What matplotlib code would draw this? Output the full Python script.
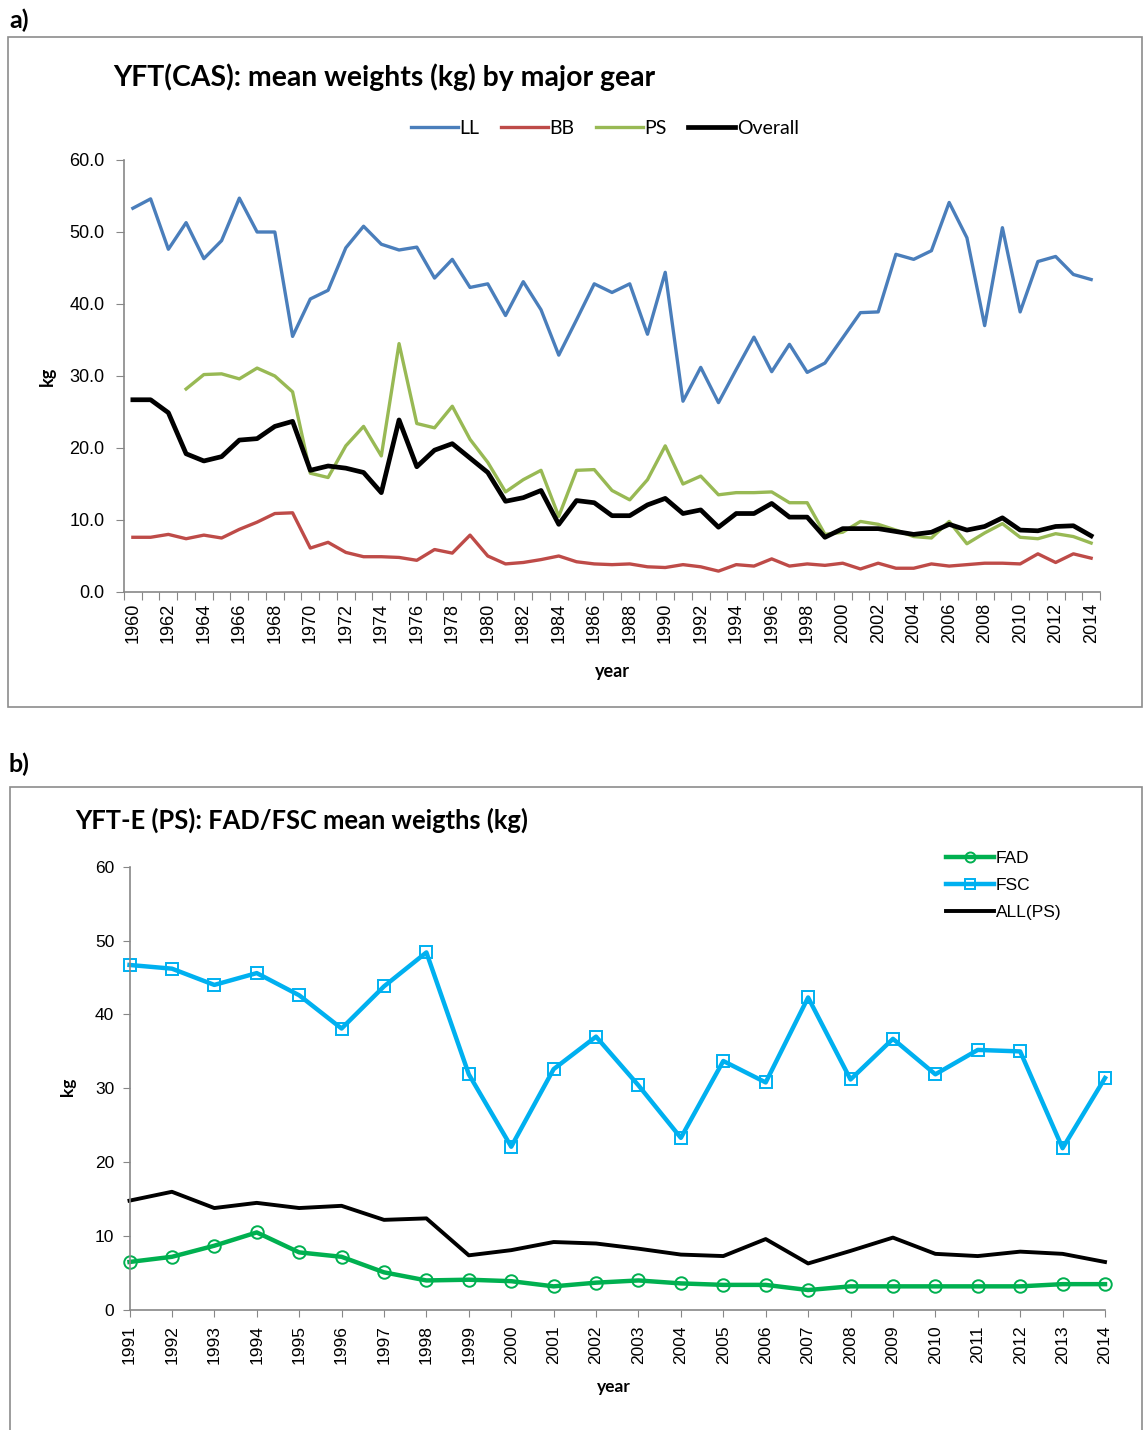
import matplotlib
matplotlib.use("Agg")
import matplotlib.pyplot as plt
from matplotlib.patches import Rectangle
from matplotlib.ticker import FormatStrFormatter
import numpy as np

# panel a: YFT catch-at-size mean weights by gear, 1960-2014
years_a = list(range(1960, 2015))
ll = [53.3, 54.6, 47.6, 51.3, 46.3, 48.8, 54.7, 50.0, 50.0, 35.5,
      40.7, 41.9, 47.8, 50.8, 48.3, 47.5, 47.9, 43.6, 46.2, 42.3,
      42.8, 38.4, 43.1, 39.2, 32.9, 37.8, 42.8, 41.6, 42.8, 35.8,
      44.4, 26.5, 31.2, 26.3, 30.9, 35.4, 30.6, 34.4, 30.5, 31.8,
      35.3, 38.8, 38.9, 46.9, 46.2, 47.4, 54.1, 49.2, 37.0, 50.6,
      38.9, 45.9, 46.6, 44.1, 43.4]
bb = [7.6, 7.6, 8.0, 7.4, 7.9, 7.5, 8.7, 9.7, 10.9, 11.0,
      6.1, 6.9, 5.5, 4.9, 4.9, 4.8, 4.4, 5.9, 5.4, 7.9,
      5.0, 3.9, 4.1, 4.5, 5.0, 4.2, 3.9, 3.8, 3.9, 3.5,
      3.4, 3.8, 3.5, 2.9, 3.8, 3.6, 4.6, 3.6, 3.9, 3.7,
      4.0, 3.2, 4.0, 3.3, 3.3, 3.9, 3.6, 3.8, 4.0, 4.0,
      3.9, 5.3, 4.1, 5.3, 4.7]
ps = [np.nan, np.nan, np.nan, 28.2, 30.2, 30.3, 29.6, 31.1, 30.0, 27.8,
      16.5, 15.9, 20.3, 23.0, 18.9, 34.5, 23.4, 22.8, 25.8, 21.2,
      18.0, 13.9, 15.6, 16.9, 10.5, 16.9, 17.0, 14.1, 12.8, 15.6,
      20.3, 15.0, 16.1, 13.5, 13.8, 13.8, 13.9, 12.4, 12.4, 8.0,
      8.3, 9.8, 9.4, 8.6, 7.7, 7.5, 9.8, 6.7, 8.2, 9.5,
      7.6, 7.4, 8.1, 7.7, 6.8]
overall = [26.7, 26.7, 24.9, 19.2, 18.2, 18.8, 21.1, 21.3, 23.0, 23.7,
           16.9, 17.5, 17.2, 16.6, 13.8, 23.9, 17.4, 19.7, 20.6, 18.6,
           16.6, 12.6, 13.1, 14.1, 9.4, 12.7, 12.4, 10.6, 10.6, 12.1,
           13.0, 10.9, 11.4, 9.0, 10.9, 10.9, 12.3, 10.4, 10.4, 7.6,
           8.8, 8.8, 8.8, 8.4, 8.0, 8.3, 9.4, 8.6, 9.1, 10.3,
           8.6, 8.5, 9.1, 9.2, 7.8]

# panel b: eastern purse seine, FAD vs free school
years_b = list(range(1991, 2015))
fad = [6.5, 7.2, 8.7, 10.5, 7.8, 7.2, 5.1, 4.0, 4.1, 3.9, 3.2, 3.7,
       4.0, 3.6, 3.4, 3.4, 2.7, 3.2, 3.2, 3.2, 3.2, 3.2, 3.5, 3.5]
fsc = [46.7, 46.2, 44.0, 45.6, 42.6, 38.1, 43.8, 48.4, 31.9, 22.1, 32.6, 37.0,
       30.4, 23.3, 33.7, 30.8, 42.3, 31.2, 36.7, 31.9, 35.2, 35.0, 21.9, 31.4]
all_ps = [14.8, 16.0, 13.8, 14.5, 13.8, 14.1, 12.2, 12.4, 7.4, 8.1, 9.2, 9.0,
          8.3, 7.5, 7.3, 9.6, 6.3, 8.0, 9.8, 7.6, 7.3, 7.9, 7.6, 6.5]

W, H = 1144, 1430
AXIS_GREY = "#878787"
TXT = ["Liberation Sans", "DejaVu Sans"]
TITLE = ["Lato", "DejaVu Sans"]

fig = plt.figure(figsize=(W / 100, H / 100), dpi=100)


def fx(px):
    return px / W


def fy(py):
    return 1 - py / H


# outer frames and panel letters
fig.add_artist(Rectangle((fx(8), fy(707)), fx(1134), fy(37) - fy(707),
                         transform=fig.transFigure, fill=False, ec="#8c8c8c", lw=1.2))
fig.add_artist(Rectangle((fx(10), fy(1432)), fx(1132), fy(787) - fy(1432),
                         transform=fig.transFigure, fill=False, ec="#8c8c8c", lw=1.2))
fig.text(fx(9), fy(20), "a)", fontsize=18, fontweight="bold", family=TITLE, va="center")
fig.text(fx(9), fy(764), "b)", fontsize=18, fontweight="bold", family=TITLE, va="center")

# ---------------- panel a ----------------
ax = fig.add_axes([fx(124), fy(592), fx(1100) - fx(124), fy(160) - fy(592)])
ax.plot(years_a, ll, color="#4a7ebb", lw=2.4, label="LL")
ax.plot(years_a, bb, color="#be4b48", lw=2.4, label="BB")
ax.plot(years_a, ps, color="#98b954", lw=2.4, label="PS")
ax.plot(years_a, overall, color="black", lw=3.4, label="Overall")

ax.set_xlim(years_a[0] - 0.5, years_a[-1] + 0.5)
ax.set_ylim(0, 60)
ax.set_yticks(np.arange(0, 61, 10))
ax.yaxis.set_major_formatter(FormatStrFormatter("%.1f"))
ax.set_xticks(np.arange(years_a[0] - 0.5, years_a[-1] + 1.0, 1.0))
ax.set_xticklabels([])
ax.set_xticks(years_a[::2], minor=True)
ax.set_xticklabels([str(y) for y in years_a[::2]], minor=True, rotation=90,
                   family=TXT, fontsize=13)
ax.tick_params(axis="x", which="major", length=6, color=AXIS_GREY, direction="out")
ax.tick_params(axis="x", which="minor", length=0, pad=8)
ax.tick_params(axis="y", length=6, color=AXIS_GREY, direction="out", labelsize=13, pad=8)
for lab in ax.get_yticklabels():
    lab.set_family(TXT)
for side in ("top", "right"):
    ax.spines[side].set_visible(False)
for side in ("left", "bottom"):
    ax.spines[side].set_color(AXIS_GREY)
    ax.spines[side].set_linewidth(1.2)

fig.text(fx(113), fy(77), "YFT(CAS): mean weights (kg) by major gear", fontsize=20.4,
         fontweight="bold", family=TITLE, va="center", ha="left")
fig.text(fx(47), fy(376), "kg", fontsize=13, fontweight="bold", family=TITLE,
         rotation=90, va="center", ha="center")
fig.text(fx(612), fy(672), "year", fontsize=13, fontweight="bold", family=TITLE,
         va="center", ha="center")
ax.legend(loc="center", bbox_to_anchor=(fx(605), fy(128)), bbox_transform=fig.transFigure,
          ncol=4, frameon=False, handlelength=2.4, handletextpad=0.1, columnspacing=1.1,
          prop={"family": TITLE, "size": 14})

# ---------------- panel b ----------------
bx = fig.add_axes([fx(129.5), fy(1310), fx(1105) - fx(129.5), fy(866.7) - fy(1310)])
bx.plot(years_b, fad, color="#00b050", lw=3.2, marker="o", ms=9, mfc="none",
        mec="#00b050", mew=1.4, label="FAD")
bx.plot(years_b, fsc, color="#00b0f0", lw=3.2, marker="s", ms=9, mfc="none",
        mec="#00b0f0", mew=1.4, label="FSC")
bx.plot(years_b, all_ps, color="black", lw=2.8, label="ALL(PS)")

bx.set_xlim(years_b[0], years_b[-1])
bx.set_ylim(0, 60)
bx.set_yticks(np.arange(0, 61, 10))
bx.set_xticks(years_b)
bx.set_xticklabels([str(y) for y in years_b], rotation=90, family=TXT, fontsize=12.5)
bx.tick_params(axis="both", length=5, color=AXIS_GREY, direction="out", labelsize=12.5, pad=6)
for lab in bx.get_yticklabels():
    lab.set_family(TXT)
for side in ("top", "right"):
    bx.spines[side].set_visible(False)
for side in ("left", "bottom"):
    bx.spines[side].set_color(AXIS_GREY)
    bx.spines[side].set_linewidth(1.2)
for line in bx.get_lines():
    line.set_clip_on(False)

fig.text(fx(75), fy(820), "YFT-E (PS): FAD/FSC mean weigths (kg)", fontsize=18.4,
         fontweight="bold", family=TITLE, va="center", ha="left")
fig.text(fx(68), fy(1087), "kg", fontsize=12.5, fontweight="bold", family=TITLE,
         rotation=90, va="center", ha="center")
fig.text(fx(614), fy(1387), "year", fontsize=12.5, fontweight="bold", family=TITLE,
         va="center", ha="center")
bx.legend(loc="upper left", bbox_to_anchor=(fx(930), fy(835)), bbox_transform=fig.transFigure,
          frameon=False, handlelength=2.8, handletextpad=0.1, labelspacing=0.7,
          prop={"family": TXT, "size": 12.5}, markerscale=0.8)

fig.savefig("out.png", dpi=100)
